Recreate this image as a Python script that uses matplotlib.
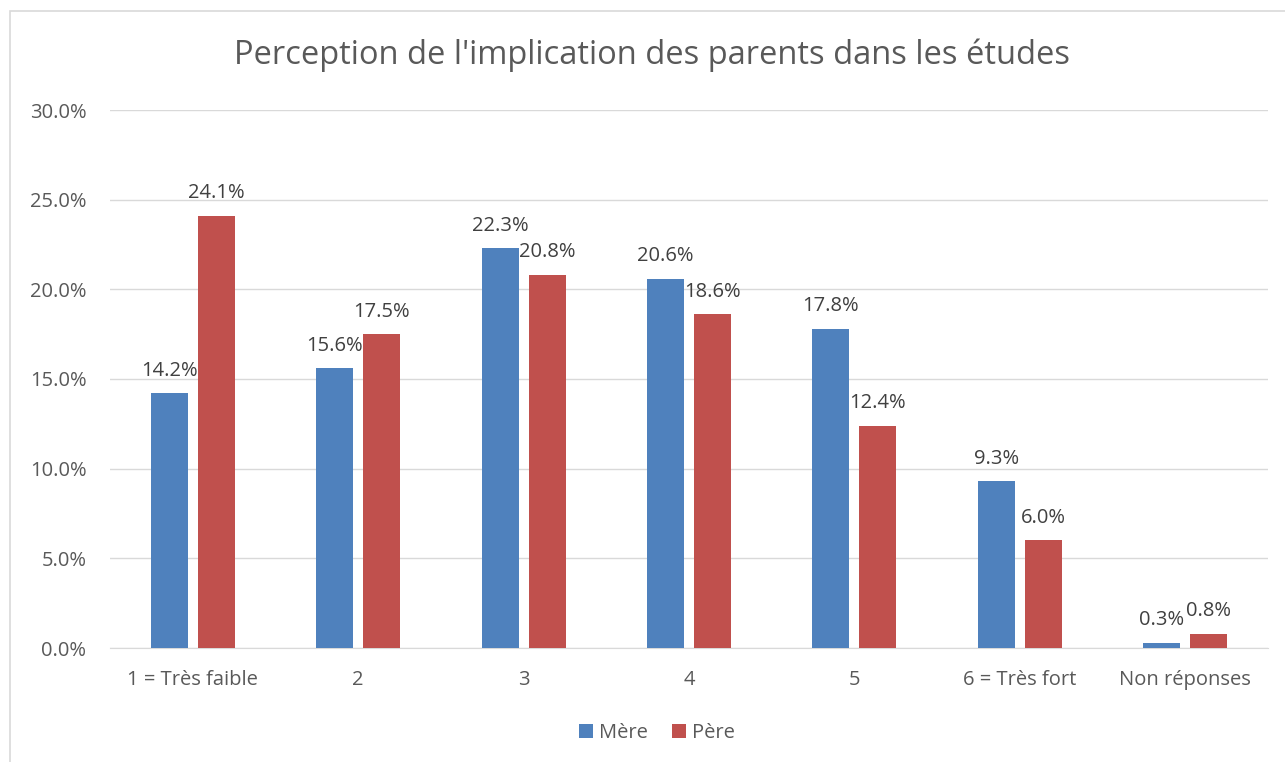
import numpy as np
import matplotlib
matplotlib.use("Agg")
import matplotlib.pyplot as plt
from matplotlib.patches import Rectangle

categories = ["1 = Très faible", "2", "3", "4", "5", "6 = Très fort", "Non réponses"]
mere = [14.2, 15.6, 22.3, 20.6, 17.8, 9.3, 0.3]
pere = [24.1, 17.5, 20.8, 18.6, 12.4, 6.0, 0.8]
yticks = [0, 5, 10, 15, 20, 25, 30]

plt.rcParams['font.family'] = ['Open Sans', 'DejaVu Sans']
gris = '#595959'
bleu = '#4F81BD'
rouge = '#C0504D'

fig = plt.figure(figsize=(12.85, 7.62), dpi=100)
# cadre du graphique (coupé à droite et en bas)
fig.patches.append(Rectangle((10/1285, -0.05), 1.1, 1 - 11/762 + 0.05,
                             transform=fig.transFigure, fill=False,
                             edgecolor='#D9D9D9', linewidth=1.2))

ax = fig.add_axes([110/1285, 1 - 648/762, 1158/1285, 538/762])
x = np.arange(len(categories))
w = 0.224
off = 0.142
b1 = ax.bar(x - off, mere, w, color=bleu, label='Mère', zorder=3)
b2 = ax.bar(x + off, pere, w, color=rouge, label='Père', zorder=3)

for bars, vals in ((b1, mere), (b2, pere)):
    for b, v in zip(bars, vals):
        ax.text(b.get_x() + b.get_width()/2, v + 0.7, f"{v:.1f}%",
                ha='center', va='bottom', fontsize=14.5, color='#404040')

ax.set_xlim(-0.5, len(categories) - 0.5)
ax.set_ylim(0, 30)
ax.set_yticks(yticks)
ax.set_yticklabels([f"{t:.1f}%" for t in yticks])
ax.set_xticks(x)
ax.set_xticklabels(categories)
ax.tick_params(axis='both', length=0, labelsize=14.5, labelcolor=gris)
ax.tick_params(axis='y', pad=17)
ax.tick_params(axis='x', pad=16)
ax.grid(axis='y', color='#D9D9D9', linewidth=1, zorder=0)
for s in ['top', 'right', 'left']:
    ax.spines[s].set_visible(False)
ax.spines['bottom'].set_color('#D9D9D9')

fig.text(652/1285, 1 - 55/762, "Perception de l'implication des parents dans les études",
         ha='center', va='center', fontsize=23.5, color=gris)

fig.legend(handles=[b1, b2], loc='center', bbox_to_anchor=(657/1285, 1 - 733/762),
           ncol=2, frameon=False, fontsize=14.5, labelcolor=gris,
           handlelength=0.7, handleheight=0.7, handletextpad=0.3, columnspacing=1.2)

fig.savefig("out.png", dpi=100)
